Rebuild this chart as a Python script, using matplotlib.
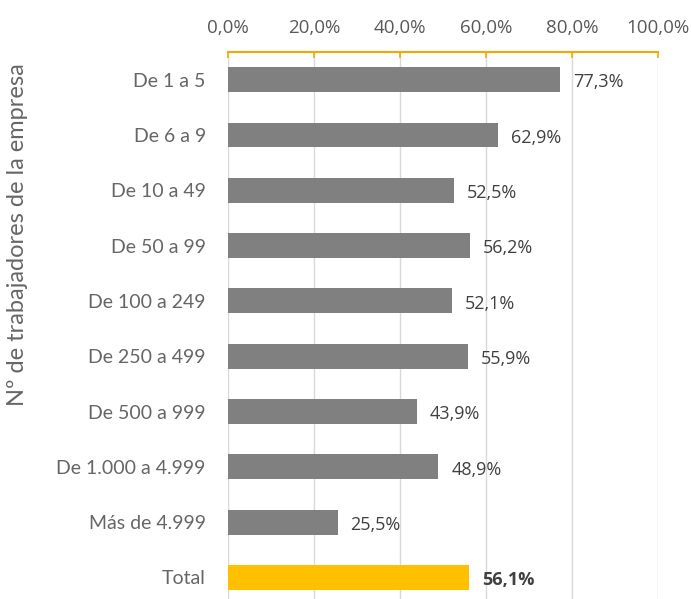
import matplotlib
matplotlib.use("Agg")
import matplotlib.pyplot as plt

categorias = ["De 1 a 5", "De 6 a 9", "De 10 a 49", "De 50 a 99", "De 100 a 249",
              "De 250 a 499", "De 500 a 999", "De 1.000 a 4.999", "Más de 4.999", "Total"]
valores = [77.3, 62.9, 52.5, 56.2, 52.1, 55.9, 43.9, 48.9, 25.5, 56.1]
ticks = [0, 20, 40, 60, 80, 100]

colores = ["#808080"] * (len(valores) - 1) + ["#FFC000"]

fig = plt.figure(figsize=(6.91, 5.99), dpi=100)
ax = fig.add_axes([228 / 691, 0, 430 / 691, 547 / 599])

pos = list(range(len(categorias)))
ax.barh(pos, valores, height=0.45, color=colores, zorder=3)
ax.set_ylim(9.39, -0.5)
ax.set_xlim(0, 100)

ax.xaxis.tick_top()
ax.set_xticks(ticks)
ax.set_xticklabels([f"{t:.1f}%".replace(".", ",") for t in ticks],
                   fontsize=13.5, color="#595959", family="Open Sans")
ax.tick_params(axis="x", direction="in", length=4, color="#F5A800", width=1.2, pad=11)
ax.set_yticks(pos)
ax.set_yticklabels(categorias, fontsize=14, color="#666666", family="Lato")
ax.tick_params(axis="y", length=0, pad=16)

ax.grid(axis="x", color="#d9d9d9", linewidth=1, zorder=0)
for s in ["bottom", "left", "right"]:
    ax.spines[s].set_visible(False)
ax.spines["top"].set_color("#F5A800")
ax.spines["top"].set_linewidth(1.5)

for i, v in enumerate(valores):
    ax.text(v + 3, i + 0.05, f"{v:.1f}%".replace(".", ","), va="center", ha="left",
            fontsize=13, color="#404040", family="Open Sans",
            fontweight="bold" if i == len(valores) - 1 else "normal")

fig.text(18 / 691, 1 - 235 / 599, "Nº de trabajadores de la empresa", rotation=90,
         va="center", ha="center", fontsize=17, color="#666666", family="Lato")

fig.savefig("out.png", dpi=100)
